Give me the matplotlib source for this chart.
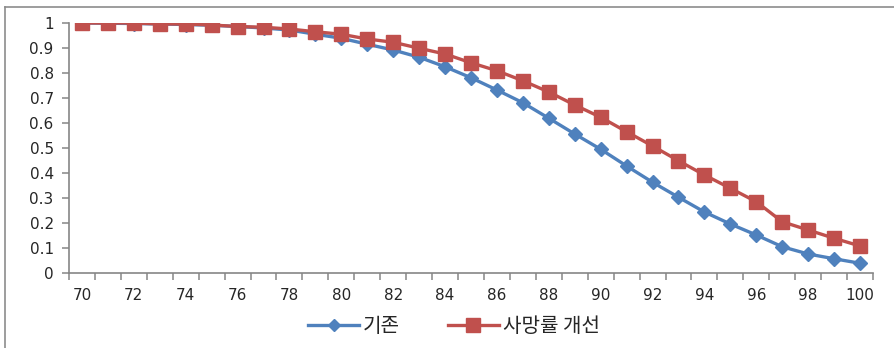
import matplotlib
matplotlib.use("Agg")
import matplotlib.pyplot as plt
from matplotlib.lines import Line2D
import numpy as np

ages = list(range(70, 101))
base = [1.0, 0.999, 0.998, 0.996, 0.994, 0.991, 0.986, 0.980, 0.972, 0.955,
        0.939, 0.915, 0.892, 0.863, 0.825, 0.781, 0.732, 0.681, 0.619, 0.556,
        0.495, 0.428, 0.363, 0.303, 0.244, 0.196, 0.152, 0.105, 0.076, 0.057, 0.039]
improved = [1.0, 1.0, 1.0, 0.996, 0.996, 0.992, 0.986, 0.983, 0.976, 0.965,
            0.955, 0.936, 0.923, 0.899, 0.876, 0.841, 0.809, 0.769, 0.724, 0.672,
            0.623, 0.565, 0.508, 0.449, 0.392, 0.339, 0.285, 0.205, 0.172, 0.139, 0.108]
series_names = ["기존", "사망률 개선"]
yticks = [0, 0.1, 0.2, 0.3, 0.4, 0.5, 0.6, 0.7, 0.8, 0.9, 1]
ytick_labels = ["0", "0.1", "0.2", "0.3", "0.4", "0.5", "0.6", "0.7", "0.8", "0.9", "1"]

plt.rcParams['font.family'] = ['DejaVu Sans', 'Noto Sans CJK KR']

W, H = 895, 348
fig = plt.figure(figsize=(W / 100, H / 100), dpi=100)
ax = fig.add_axes([69 / W, 1 - 273 / H, (873 - 69) / W, (273 - 23) / H])

x = np.arange(len(ages))
blue = "#4F81BD"
red = "#C0504D"
ax.plot(x, base, color=blue, lw=2.4, marker="D", markersize=7.5, label=series_names[0], zorder=3)
ax.plot(x, improved, color=red, lw=2.4, marker="s", markersize=10.5, label=series_names[1], zorder=4)

ax.set_xlim(-0.5, len(ages) - 0.5)
ax.set_ylim(0, 1)
ax.set_yticks(yticks)
ax.set_yticklabels(ytick_labels)
ax.set_xticks(x[::2])
ax.set_xticklabels([str(a) for a in ages[::2]])
ax.set_xticks(np.arange(-0.5, len(ages), 1), minor=True)

spine_c = "#868686"
for s in ["top", "right"]:
    ax.spines[s].set_visible(False)
for s in ["left", "bottom"]:
    ax.spines[s].set_color(spine_c)
    ax.spines[s].set_linewidth(1.2)
lab_c = "#262626"
ax.tick_params(axis="y", length=5, width=1.1, color=spine_c, labelsize=11, labelcolor=lab_c, pad=6)
ax.tick_params(axis="x", which="major", length=0, labelsize=11, labelcolor=lab_c, pad=11)
ax.tick_params(axis="x", which="minor", length=5, width=1.1, color=spine_c)

leg_handles = [
    Line2D([], [], color=blue, lw=2.4, marker="D", markersize=6),
    Line2D([], [], color=red, lw=2.4, marker="s", markersize=10),
]
leg = fig.legend(handles=leg_handles, labels=series_names, loc="center",
                 bbox_to_anchor=(454 / W, 1 - 327 / H),
                 ncol=2, frameon=False, fontsize=14.5, handlelength=2.5, columnspacing=2.4,
                 handletextpad=0.2)
for t in leg.get_texts():
    t.set_color(lab_c)
    t.set_family(['Noto Sans CJK KR', 'DejaVu Sans'])

# outer chart border (top and left visible)
fig.add_artist(Line2D([5 / W, 1], [1 - 7 / H, 1 - 7 / H], transform=fig.transFigure, color="#8c8c8c", lw=1.2))
fig.add_artist(Line2D([5 / W, 5 / W], [0, 1 - 7 / H], transform=fig.transFigure, color="#8c8c8c", lw=1.2))

fig.savefig("out.png", dpi=100)
